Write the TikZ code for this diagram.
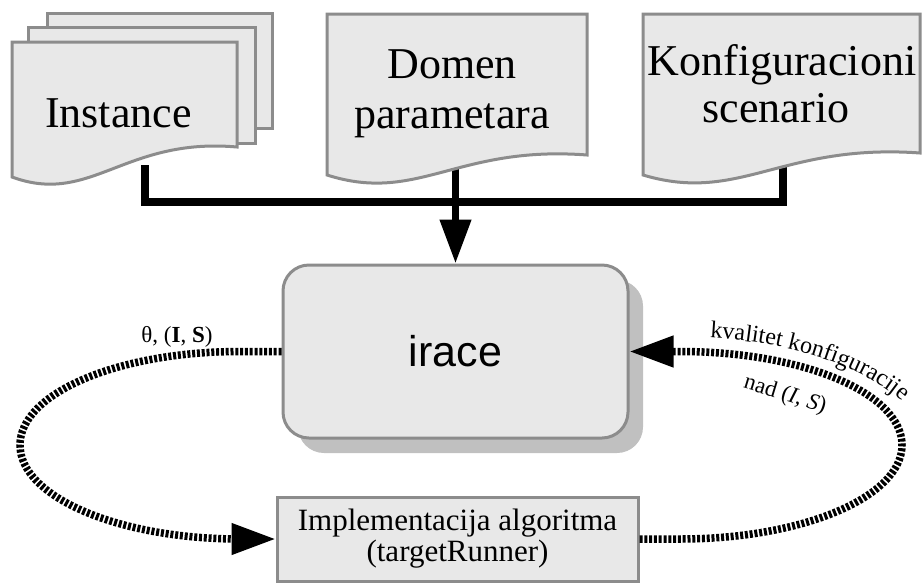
\documentclass[tikz,border=0pt]{standalone}
\usepackage{fontspec}
\setmainfont{Liberation Serif}
\newfontfamily\irsans{Liberation Sans}
\usetikzlibrary{arrows.meta,shadows,decorations.text}
\definecolor{docfill}{HTML}{E8E8E8}
\definecolor{docline}{HTML}{8C8C8C}
\definecolor{shadowgray}{HTML}{C0C0C0}
\newcommand\docpath[5]{(#1,#2) -- (#3,#2) -- (#3,#4) .. controls ({#1+0.5*(#3-#1)},{#4-10}) and ({#1+0.35*(#3-#1)},{#5+29}) .. (#1,#5) -- cycle}
\tikzset{
  docstyle/.style={draw=docline, fill=docfill, line width=3pt, line join=miter},
  thickline/.style={line width=7.5pt, black},
  bigtip/.style={-{Triangle[length=44pt,width=30pt]}},
  dotline/.style={line width=7.5pt, dash pattern=on 3pt off 1.8pt, black},
  toptext/.style={font=\fontsize{44}{50}\selectfont, anchor=base, inner sep=0pt},
  labeltext/.style={font=\fontsize{23}{26}\selectfont, inner sep=0pt}
}
\begin{document}
\begin{tikzpicture}[x=1pt,y=-1pt]
\useasboundingbox (0,0) rectangle (923,582);
% connectors behind documents
\coordinate (instB) at (145,165);
\coordinate (domB) at (455.5,165);
\coordinate (konfB) at (783,165);
\coordinate (hub) at (455.5,202);
% irace box
\node[draw=docline, fill=docfill, line width=3pt, rounded corners=26pt,
      minimum width=345pt, minimum height=173pt,
      drop shadow={shadow xshift=15pt, shadow yshift=-15pt, fill=shadowgray, opacity=1},
      font=\irsans\fontsize{43}{47}\selectfont] (irace) at (455.5,351.5) {irace};
\draw[thickline, line join=miter] (instB) |- (hub) -| (konfB);
\draw[thickline, bigtip] (domB) -- (irace.north);
% documents
\draw[docstyle] (47,13) rectangle (272,128);
\draw[docstyle] (28,27) rectangle (255,143);
\draw[docstyle] \docpath{12}{42}{237}{147}{177};
\draw[docstyle] \docpath{327}{14}{587}{155}{175};
\draw[docstyle] \docpath{643}{14}{920}{153}{175};
\node[toptext] (instT) at (118.5,127) {Instance};
\node[toptext] (domT1) at (452,78) {Domen};
\node[toptext] (domT2) at (452,128) {parametara};
\node[toptext] (konT1) at (782,75) {Konfiguracioni};
\node[toptext] (konT2) at (776,122) {scenario};
% implementation box
\node[draw=docline, fill=docfill, line width=3pt, minimum width=361pt, minimum height=84pt,
      align=center, font=\fontsize{31}{31}\selectfont] (impl) at (457.5,539)
      {Implementacija algoritma\\(targetRunner)};
% loops
\draw[dotline, bigtip] (irace.west) -- (240,351.5)
   .. controls (118.5,351.5) and (20,393) .. (20,445)
   .. controls (20,497) and (118.5,539) .. (240,539) -- (impl.west);
\draw[dotline, bigtip] (impl.east) -- (680,539)
   .. controls (802.6,539) and (902,497) .. (902,445)
   .. controls (902,393) and (802.6,351.5) .. (680,351.5) -- (irace.east);
% labels
\node[labeltext] (lab1) at (177,337) {θ, (\textbf{I}, \textbf{S})};
\node[labeltext, rotate=-17] (lab2) at (785,395) {nad (\textit{I}, \textit{S})};
\coordinate (tpA) at (680,337);
\coordinate (tpB) at (932,460);
\path[decorate, decoration={text along path,
   text={|\fontsize{24}{28}\selectfont|kvalitet konfiguracije},
   text align={left indent=30pt}}]
   (tpA) .. controls (820,337) and (932,392) .. (tpB);
\end{tikzpicture}
\end{document}
